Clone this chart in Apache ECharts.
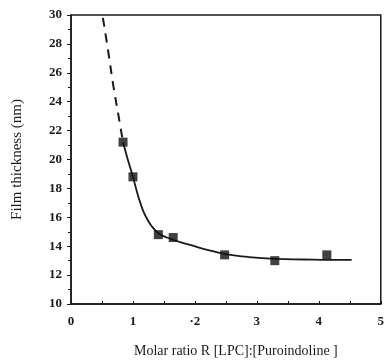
<!DOCTYPE html>
<html>
<head>
<meta charset="utf-8">
<script src="https://cdn.jsdelivr.net/npm/echarts@6/dist/echarts.min.js"></script>
<style>
  html, body { margin: 0; padding: 0; background: #fff; }
  #chart { width: 387px; height: 363px; }
</style>
</head>
<body>
<div id="chart"></div>
<script>
// measured points: molar ratio R vs film thickness (nm)
const ratioPoints = [0.84, 1.0, 1.41, 1.65, 2.48, 3.29, 4.13]
const thicknessPoints = [21.2, 18.8, 14.8, 14.6, 13.4, 13.0, 13.4]

// fitted curve (solid part)
const fitX = [0.84, 0.92, 1.0, 1.05, 1.1, 1.16, 1.22, 1.3, 1.41, 1.55, 1.75, 1.95, 2.2, 2.5, 2.87, 3.3, 3.76, 4.2, 4.53]
const fitY = [21.2, 19.95, 18.8, 18.0, 17.25, 16.5, 15.95, 15.4, 14.9, 14.6, 14.3, 14.05, 13.75, 13.45, 13.25, 13.12, 13.08, 13.05, 13.05]

// extrapolated (dashed) part
const dashX = [0.515, 0.6, 0.68, 0.76, 0.84]
const dashY = [29.8, 27.5, 25.2, 23.2, 21.2]

const xTickLabels = { 0: "0", 1: "1", 2: "\u00b72", 3: "3", 4: "4", 5: "5" }

const pairs = (xs, ys) => xs.map((x, i) => [x, ys[i]])

const chart = echarts.init(document.getElementById("chart"))
const ink = "#1a1a1a"
const serif = "Liberation Serif"

chart.setOption({
  animation: false,
  grid: {
    left: 71, right: 2, top: 15, bottom: 59,
    show: true, borderColor: ink, borderWidth: 1.5
  },
  xAxis: {
    type: "value",
    min: 0, max: 5, interval: 1,
    name: "Molar ratio R [LPC]:[Puroindoline ]",
    nameLocation: "middle",
    nameGap: 40,
    nameTextStyle: { fontFamily: serif, fontSize: 14, color: ink, padding: [0, 0, 0, 20] },
    axisLine: { lineStyle: { color: ink, width: 1.5 } },
    axisTick: { inside: true, length: 3, lineStyle: { color: ink } },
    minorTick: { show: true, splitNumber: 2, length: 3, lineStyle: { color: ink } },
    splitLine: { show: false },
    axisLabel: {
      fontFamily: serif, fontSize: 13, fontWeight: "bold", color: ink, margin: 11,
      formatter: (v) => xTickLabels[v] ?? ""
    }
  },
  yAxis: {
    type: "value",
    min: 10, max: 30, interval: 2,
    name: "Film thickness (nm)",
    nameLocation: "middle",
    nameGap: 46,
    nameTextStyle: { fontFamily: serif, fontSize: 15, color: ink },
    axisLine: { lineStyle: { color: ink, width: 1.5 } },
    axisTick: { length: 4, lineStyle: { color: ink } },
    minorTick: { show: true, splitNumber: 2, length: 3, lineStyle: { color: ink } },
    splitLine: { show: false },
    axisLabel: { fontFamily: serif, fontSize: 13, fontWeight: "bold", color: ink, margin: 9 }
  },
  series: [
    {
      type: "line",
      data: pairs(dashX, dashY),
      smooth: true,
      showSymbol: false,
      lineStyle: { color: ink, width: 2, type: [9, 7] }
    },
    {
      type: "line",
      data: pairs(fitX, fitY),
      smooth: 0.4,
      showSymbol: false,
      lineStyle: { color: ink, width: 1.8 }
    },
    {
      type: "scatter",
      data: pairs(ratioPoints, thicknessPoints),
      symbol: "rect",
      symbolSize: 9,
      itemStyle: { color: "#111" },
      z: 5
    }
  ]
})
</script>
</body>
</html>
